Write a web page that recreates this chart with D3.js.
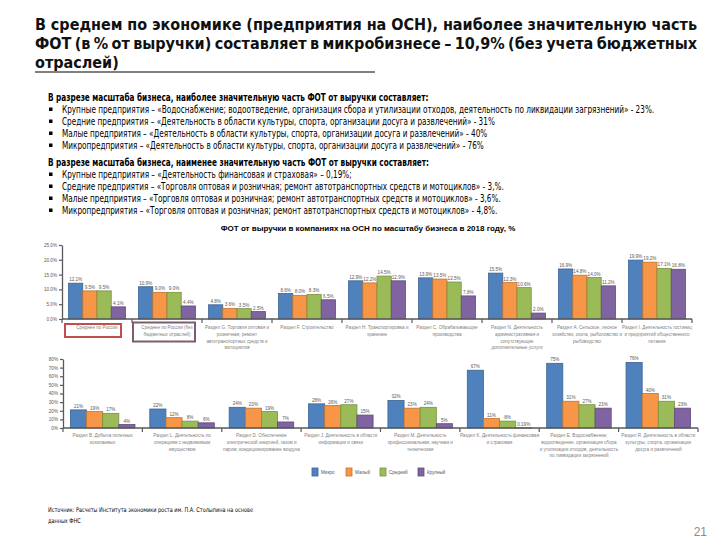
<!DOCTYPE html>
<html>
<head>
<meta charset="utf-8">
<script src="https://cdn.jsdelivr.net/npm/d3@7"></script>
<style>
  body { margin: 0; background: #fff; }
  svg { display: block; }
  .narrow { font-family: "Liberation Sans Narrow", "Arial Narrow", "DejaVu Sans Condensed", sans-serif; }
  .sans { font-family: "Liberation Sans", Arial, sans-serif; }
</style>
</head>
<body>
<svg id="slide" width="720" height="540"></svg>
<script>
// === Data ===
const series = ['Микро', 'Малый', 'Средний', 'Крупный'];
const fills = ['#4F81BD', '#F79646', '#9BBB59', '#8064A2'];
const edges = ['#3A6496', '#C0742F', '#77923F', '#5E4A7B'];

// top chart: % of revenue, by size
const topCats = [
  ['Среднее по России'],
  ['Среднее по России (без', 'бюджетных отраслей)'],
  ['Раздел G. Торговля оптовая и', 'розничная; ремонт', 'автотранспортных средств и', 'мотоциклов'],
  ['Раздел F. Строительство'],
  ['Раздел H. Транспортировка и', 'хранение'],
  ['Раздел C. Обрабатывающие', 'производства'],
  ['Раздел N. Деятельность', 'административная и', 'сопутствующие', 'дополнительные услуги'],
  ['Раздел A. Сельское, лесное', 'хозяйство, охота, рыболовство и', 'рыбоводство'],
  ['Раздел I. Деятельность гостиниц', 'и предприятий общественного', 'питания']
];
const topMicro  = [12.1, 10.9, 4.8,  8.6, 12.9, 13.9, 15.5, 16.9, 19.9];
const topSmall  = [ 9.5,  9.0, 3.6,  8.0, 12.2, 13.5, 12.3, 14.8, 19.2];
const topMedium = [ 9.5,  9.0, 3.5,  8.3, 14.5, 12.5, 10.6, 14.0, 17.1];
const topLarge  = [ 4.1,  4.4, 2.5,  6.5, 12.9,  7.8,  2.0, 11.2, 16.8];
const topTicks  = [0, 5, 10, 15, 20, 25];

// bottom chart
const botCats = [
  ['Раздел B. Добыча полезных', 'ископаемых'],
  ['Раздел L. Деятельность по', 'операциям с недвижимым', 'имуществом'],
  ['Раздел D. Обеспечение', 'электрической энергией, газом и', 'паром; кондиционирование воздуха'],
  ['Раздел J. Деятельность в области', 'информации и связи'],
  ['Раздел M. Деятельность', 'профессиональная, научная и', 'техническая'],
  ['Раздел K. Деятельность финансовая', 'и страховая'],
  ['Раздел E. Водоснабжение;', 'водоотведение, организация сбора', 'и утилизации отходов, деятельность', 'по ликвидации загрязнений'],
  ['Раздел R. Деятельность в области', 'культуры, спорта, организации', 'досуга и развлечений']
];
const botMicro  = [21, 22, 24, 28, 32, 67, 75, 76];
const botSmall  = [19, 12, 23, 26, 23, 11, 31, 40];
const botMedium = [17,  8, 19, 27, 24,  8, 27, 31];
const botLarge  = [ 4,  6,  7, 15,  5, 0.19, 23, 23];
const botTicks  = [0, 10, 20, 30, 40, 50, 60, 70, 80];

// slide texts
const titleLines = [
  'В среднем по экономике (предприятия на ОСН), наиболее значительную часть',
  'ФОТ (в % от выручки) составляет в микробизнесе – 10,9% (без учета бюджетных',
  'отраслей)'
];
const mostHead = 'В разрезе масштаба бизнеса, наиболее значительную часть ФОТ от выручки составляет:';
const mostItems = [
  'Крупные предприятия – «Водоснабжение; водоотведение, организация сбора и утилизации отходов, деятельность по ликвидации загрязнений» - 23%.',
  'Средние предприятия –  «Деятельность в области культуры, спорта, организации досуга и развлечений» - 31%',
  'Малые предприятия – «Деятельность в области культуры, спорта, организации досуга и развлечений» - 40%',
  'Микропредприятия – «Деятельность в области культуры, спорта, организации досуга и развлечений» - 76%'
];
const leastHead = 'В разрезе масштаба бизнеса, наименее значительную часть ФОТ от выручки составляет:';
const leastItems = [
  'Крупные предприятия – «Деятельность финансовая и страховая» – 0,19%;',
  'Средние предприятия – «Торговля оптовая и розничная; ремонт автотранспортных средств и мотоциклов» - 3,%.',
  'Малые предприятия – «Торговля оптовая и розничная; ремонт автотранспортных средств и мотоциклов» - 3,6%.',
  'Микропредприятия – «Торговля оптовая и розничная; ремонт автотранспортных средств и мотоциклов» - 4,8%.'
];
const chartTitle = 'ФОТ от выручки в компаниях на ОСН по масштабу бизнеса в 2018 году, %';
const sourceLines = ['Источник: Расчеты Института экономики роста им. П.А. Столыпина на основе', 'данных ФНС'];

const svg = d3.select('#slide');

// narrow text: a horizontally scaled group, to mimic the slide's narrow font
function narrowText(x, y, k, size, weight, str) {
  return svg.append('g')
    .attr('transform', `translate(${x},${y}) scale(${k},1)`)
    .append('text').attr('class', 'narrow')
    .attr('font-size', size).attr('font-weight', weight).attr('fill', '#000')
    .text(str);
}

// === Title (justified lines) ===
titleLines.forEach((line, i) => {
  const t = svg.append('text')
    .attr('class', 'narrow')
    .attr('x', 35).attr('y', 30 + i * 19)
    .attr('font-size', 16).attr('font-weight', 'bold').attr('fill', '#111')
    .text(line);
  if (i < 2) {
    const w = t.node().getComputedTextLength();
    const gaps = line.split(' ').length - 1;
    t.attr('word-spacing', (662 - w) / gaps);
  }
});
svg.append('line').attr('x1', 35).attr('x2', 375).attr('y1', 72).attr('y2', 72)
  .attr('stroke', '#000').attr('stroke-width', 1);

// === Text blocks ===
// the longest bullet on the slide sets the squeeze factor
const probe = svg.append('text').attr('class', 'narrow').attr('font-size', 10).text(mostItems[0]);
const squeezeK = 593 / probe.node().getComputedTextLength();
probe.remove();

function textBlock(head, items, y0) {
  narrowText(48, y0, squeezeK, 10, 'bold', head);
  items.forEach((s, i) => {
    const y = y0 + 12 * (i + 1);
    svg.append('rect').attr('x', 49).attr('y', y - 5.5).attr('width', 3.5).attr('height', 3.5).attr('fill', '#000');
    narrowText(62, y, squeezeK, 10, 'normal', s);
  });
}
textBlock(mostHead, mostItems, 101);
textBlock(leastHead, leastItems, 166);

svg.append('text').attr('class', 'sans')
  .attr('x', 368).attr('y', 231).attr('text-anchor', 'middle')
  .attr('font-size', 8).attr('font-weight', 'bold').attr('fill', '#000')
  .text(chartTitle);

// === Grouped bar chart ===
function barChart(opts) {
  const { cats, values, ticks, x0r, yr, fmt, tickFmt, labelY } = opts;
  const keys = cats.map((_, i) => i);
  const x0 = d3.scaleBand().domain(keys).range(x0r);
  const x1 = d3.scaleBand().domain(series).range([0, x0.bandwidth()]).paddingOuter(0.46);
  const y = d3.scaleLinear().domain([0, d3.max(ticks)]).range(yr);
  const g = svg.append('g');

  keys.forEach(k => {
    const grp = g.append('g').attr('transform', `translate(${x0(k)},0)`);
    series.forEach((s, si) => {
      const v = values[si][k];
      grp.append('rect')
        .attr('x', x1(s)).attr('y', y(v))
        .attr('width', x1.bandwidth()).attr('height', y(0) - y(v))
        .attr('fill', fills[si]).attr('stroke', edges[si]).attr('stroke-width', 0.8);
      grp.append('text').attr('class', 'sans')
        .attr('x', x1(s) + x1.bandwidth() / 2).attr('y', y(v) - 2)
        .attr('text-anchor', 'middle').attr('font-size', 4.6).attr('fill', '#595959')
        .text(fmt(v));
    });
    cats[k].forEach((line, li) => {
      g.append('text').attr('class', 'sans')
        .attr('x', x0(k) + x0.bandwidth() / 2).attr('y', labelY + li * 6.8)
        .attr('text-anchor', 'middle').attr('font-size', 4.6).attr('fill', '#7f7f7f')
        .text(line);
    });
  });

  // y axis
  const ya = g.append('g').attr('transform', `translate(${x0r[0]},0)`)
    .call(d3.axisLeft(y).tickValues(ticks).tickFormat(tickFmt).tickSize(3).tickSizeOuter(0));
  ya.select('.domain').attr('stroke', '#595959').attr('stroke-width', 1.3);
  ya.selectAll('.tick line').attr('stroke', '#595959').attr('stroke-width', 1.2);
  ya.selectAll('.tick text').attr('class', 'sans').attr('font-size', 4.6).attr('fill', '#595959').attr('x', -5);

  // x axis with group separators
  g.append('line').attr('x1', x0r[0]).attr('x2', x0r[1]).attr('y1', y(0)).attr('y2', y(0))
    .attr('stroke', '#595959').attr('stroke-width', 1.3);
  d3.range(keys.length + 1).forEach(i => {
    const x = x0r[0] + i * x0.step();
    g.append('line').attr('x1', x).attr('x2', x).attr('y1', y(0)).attr('y2', y(0) + 4)
      .attr('stroke', '#595959').attr('stroke-width', 1.2);
  });
}

barChart({
  cats: topCats,
  values: [topMicro, topSmall, topMedium, topLarge],
  ticks: topTicks, x0r: [62, 692], yr: [319, 245],
  fmt: v => v.toFixed(1) + '%', tickFmt: v => v.toFixed(1) + '%', labelY: 329
});
barChart({
  cats: botCats,
  values: [botMicro, botSmall, botMedium, botLarge],
  ticks: botTicks, x0r: [63, 698], yr: [428, 359],
  fmt: v => (v < 1 ? v.toFixed(2) : v.toFixed(0)) + '%', tickFmt: v => v + '%', labelY: 437
});

// highlight boxes on the first two top categories
svg.append('rect').attr('x', 65).attr('y', 324).attr('width', 56).attr('height', 13)
  .attr('fill', 'none').attr('stroke', '#C0504D').attr('stroke-width', 2);
svg.append('rect').attr('x', 133).attr('y', 322.5).attr('width', 62).attr('height', 19)
  .attr('fill', 'none').attr('stroke', '#7D5E6E').attr('stroke-width', 2);

// === Legend ===
const legendX = [312, 346, 380, 418];
series.forEach((s, i) => {
  svg.append('rect').attr('x', legendX[i]).attr('y', 468).attr('width', 6).attr('height', 8)
    .attr('fill', fills[i]).attr('stroke', edges[i]).attr('stroke-width', 0.8);
  svg.append('text').attr('class', 'sans')
    .attr('x', legendX[i] + 9).attr('y', 474)
    .attr('font-size', 4.6).attr('fill', '#595959').text(s);
});

// === Source and page number ===
sourceLines.forEach((s, i) => {
  narrowText(48, 512 + i * 11, 0.85, 6.5, 'normal', s);
});
svg.append('text').attr('class', 'sans')
  .attr('x', 707).attr('y', 536).attr('text-anchor', 'end')
  .attr('font-size', 12).attr('fill', '#8c8c8c').text('21');
</script>
</body>
</html>
